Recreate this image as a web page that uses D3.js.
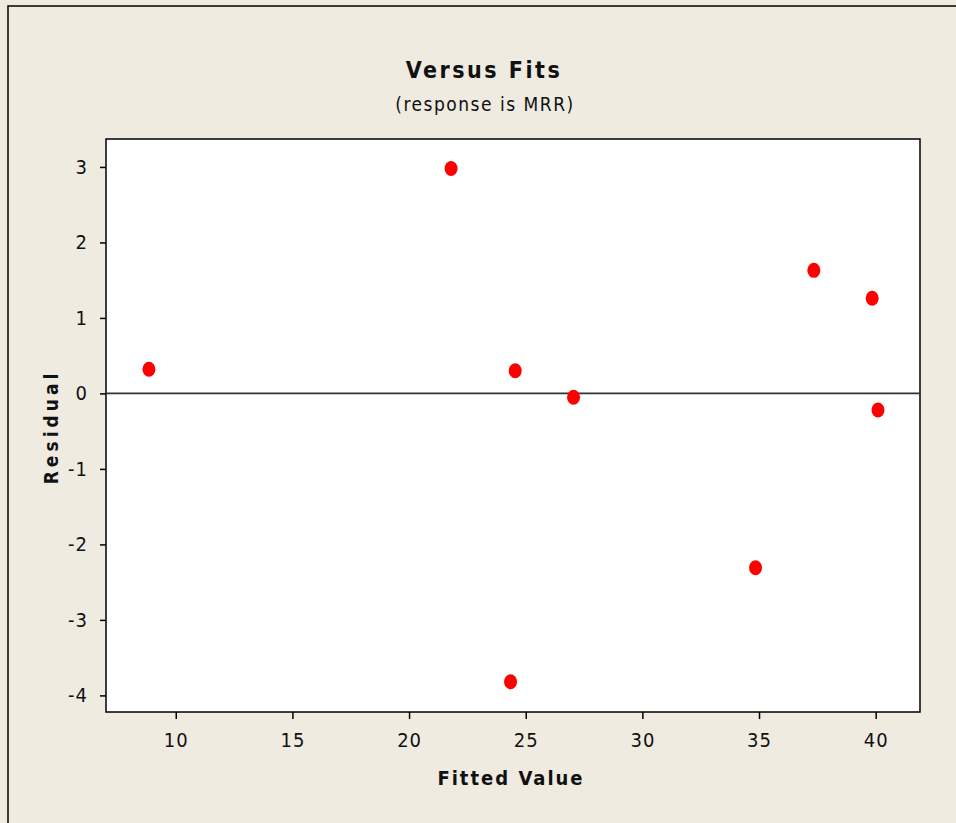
<!DOCTYPE html>
<html>
<head>
<meta charset="utf-8">
<script src="https://cdn.jsdelivr.net/npm/d3@7"></script>
<style>
  body { margin: 0; background: #efebe1; }
  text { font-family: "Liberation Sans Narrow", "DejaVu Sans Condensed", "Liberation Sans", sans-serif; fill: #111; }
</style>
</head>
<body>
<div class="vis-scatter"></div>
<script>
const fitted = [8.85, 21.8, 24.55, 24.35, 27.05, 34.85, 37.35, 39.85, 40.1];
const residual = [0.32, 2.98, 0.3, -3.82, -0.05, -2.31, 1.63, 1.26, -0.22];
const xTicks = [10, 15, 20, 25, 30, 35, 40];
const yTicks = [3, 2, 1, 0, -1, -2, -3, -4];

const W = 956, H = 823;
const margin = { top: 139, right: 36, bottom: 111, left: 106 };
const width = W - margin.left - margin.right;
const height = H - margin.top - margin.bottom;

const svg = d3.select('.vis-scatter')
  .append('svg')
  .attr('width', W)
  .attr('height', H);

// outer frame (only left and top edges show)
svg.append('rect')
  .attr('x', 8).attr('y', 6)
  .attr('width', W).attr('height', H)
  .attr('fill', '#efebe1')
  .attr('stroke', '#000')
  .attr('stroke-width', 1.5);

const g = svg.append('g')
  .attr('transform', `translate(${margin.left},${margin.top})`);

const x = d3.scaleLinear().domain([7.01, 41.9]).range([0, width]);
const y = d3.scaleLinear().domain([-4.22, 3.37]).range([height, 0]);

g.append('rect')
  .attr('width', width).attr('height', height)
  .attr('fill', '#fff')
  .attr('stroke', '#000')
  .attr('stroke-width', 1.5);

// plain hyphen for negatives, like the original
const fmt = (d) => String(d);

const xAxis = g.append('g')
  .attr('transform', `translate(0,${height})`)
  .call(d3.axisBottom(x).tickValues(xTicks).tickFormat(fmt).tickSize(7).tickPadding(14));
const yAxis = g.append('g')
  .call(d3.axisLeft(y).tickValues(yTicks).tickFormat(fmt).tickSize(6).tickPadding(8));

[xAxis, yAxis].forEach((ax) => {
  ax.select('.domain').remove();
  ax.selectAll('line').attr('stroke', '#000').attr('stroke-width', 1.5);
  ax.selectAll('text')
    .attr('font-size', 20)
    .attr('letter-spacing', 1)
    .attr('fill', '#111');
});
yAxis.selectAll('text').attr('dx', -4);

// zero reference line
g.append('line')
  .attr('x1', 0).attr('x2', width)
  .attr('y1', y(0)).attr('y2', y(0))
  .attr('stroke', '#333')
  .attr('stroke-width', 1.8);

g.selectAll('ellipse')
  .data(fitted.map((f, i) => ({ f, r: residual[i] })))
  .enter()
  .append('ellipse')
  .attr('cx', (d) => x(d.f))
  .attr('cy', (d) => y(d.r))
  .attr('rx', 6.5)
  .attr('ry', 7.5)
  .attr('fill', '#ff0000');

svg.append('text')
  .attr('x', 484).attr('y', 78)
  .attr('text-anchor', 'middle')
  .attr('font-size', 23)
  .attr('font-weight', 'bold')
  .attr('letter-spacing', 2.5)
  .text('Versus Fits');

svg.append('text')
  .attr('x', 485).attr('y', 111)
  .attr('text-anchor', 'middle')
  .attr('font-size', 19)
  .attr('letter-spacing', 1.5)
  .text('(response is MRR)');

svg.append('text')
  .attr('x', 511).attr('y', 785)
  .attr('text-anchor', 'middle')
  .attr('font-size', 20)
  .attr('font-weight', 'bold')
  .attr('letter-spacing', 2)
  .text('Fitted Value');

svg.append('text')
  .attr('transform', 'translate(58,427) rotate(-90)')
  .attr('text-anchor', 'middle')
  .attr('font-size', 19)
  .attr('font-weight', 'bold')
  .attr('letter-spacing', 4)
  .text('Residual');
</script>
</body>
</html>
